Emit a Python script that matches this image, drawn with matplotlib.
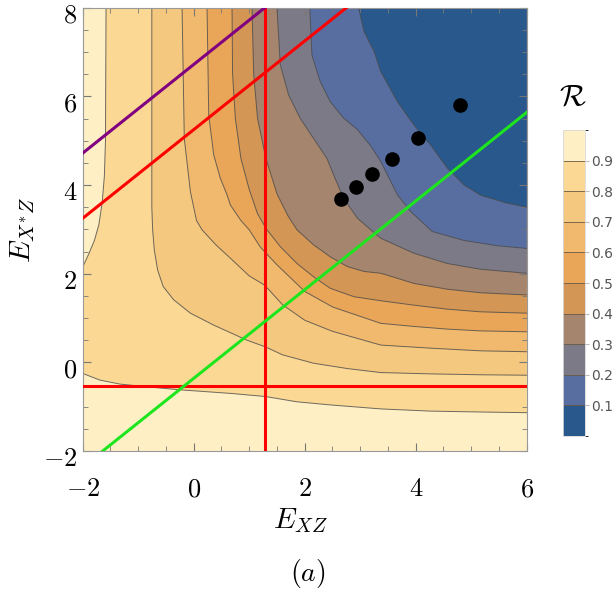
import numpy as np
import matplotlib
matplotlib.use("Agg")
import matplotlib.pyplot as plt
import matplotlib.transforms as mtransforms
from matplotlib.colors import ListedColormap, BoundaryNorm
from matplotlib.cm import ScalarMappable

plt.rcParams["mathtext.fontset"] = "cm"

# band colours, from R<0.1 (dark blue) up to R>0.9 (cream)
band_colors = ["#28588C", "#586EA0", "#7D7A87", "#A5856E", "#D39655",
               "#E9A658", "#F0B96E", "#F5C880", "#FBD894", "#FEF0C4"]
levels = [0.1, 0.2, 0.3, 0.4, 0.5, 0.6, 0.7, 0.8, 0.9]

# contour lines (x = E_XZ, y = E_X*Z), top edge -> right edge
c10_x = [2.97, 3.07, 3.25, 3.37, 3.67, 3.97, 4.27, 4.57, 4.87, 5.17, 5.65, 6.0]
c10_y = [8.0, 7.46, 7.01, 6.56, 5.88, 5.35, 4.90, 4.38, 4.00, 3.77, 3.59, 3.50]
c20_x = [2.09, 2.13, 2.28, 2.46, 2.70, 2.95, 3.19, 3.37, 3.67, 3.91, 4.30, 4.87, 5.47, 6.0]
c20_y = [8.0, 6.93, 6.33, 5.88, 5.51, 5.25, 4.88, 4.53, 3.78, 3.40, 2.95, 2.75, 2.63, 2.57]
c30_x = [1.50, 1.56, 1.71, 1.92, 2.16, 2.40, 2.52, 2.70, 2.95, 3.19, 3.37, 3.97, 4.57, 5.17, 6.0]
c30_y = [8.0, 6.71, 6.03, 5.50, 5.05, 4.60, 4.23, 3.70, 3.25, 2.99, 2.80, 2.46, 2.23, 2.10, 2.01]
c40_x = [1.05, 1.08, 1.15, 1.30, 1.50, 1.70, 1.86, 2.16, 2.46, 2.77, 3.07, 3.37, 3.97, 4.57, 5.17, 6.0]
c40_y = [8.0, 6.50, 5.50, 4.60, 3.80, 3.30, 2.99, 2.65, 2.38, 2.16, 2.05, 2.01, 1.78, 1.65, 1.57, 1.52]
c50_x = [0.69, 0.70, 0.75, 0.85, 1.00, 1.15, 1.32, 1.56, 1.86, 2.16, 2.46, 2.89, 3.37, 3.97, 4.57, 5.17, 6.0]
c50_y = [8.0, 6.50, 5.50, 4.60, 3.90, 3.35, 2.99, 2.61, 2.23, 1.93, 1.67, 1.48, 1.39, 1.29, 1.20, 1.14, 1.11]
c60_x = [0.24, 0.27, 0.36, 0.48, 0.60, 0.66, 0.85, 1.00, 1.20, 1.50, 2.00, 2.50, 3.37, 3.97, 4.57, 5.17, 6.0]
c60_y = [8.0, 5.58, 4.68, 4.15, 3.78, 3.55, 3.20, 2.99, 2.60, 2.20, 1.60, 1.25, 0.88, 0.81, 0.75, 0.71, 0.69]
c70_x = [-0.21, -0.17, -0.06, 0.05, 0.15, 0.40, 0.66, 1.00, 1.28, 1.60, 2.00, 2.50, 3.37, 4.27, 5.17, 6.0]
c70_y = [8.0, 5.05, 3.85, 3.20, 2.99, 2.65, 2.35, 1.95, 1.74, 1.30, 0.95, 0.70, 0.39, 0.32, 0.26, 0.24]
c80_x = [-0.755, -0.755, -0.74, -0.71, -0.65, -0.55, -0.36, -0.06, 0.36, 0.66, 0.96, 1.29, 1.60, 2.16, 2.77, 3.37, 4.27, 5.17, 6.0]
c80_y = [8.0, 3.50, 2.99, 2.53, 2.08, 1.71, 1.41, 1.11, 0.84, 0.67, 0.50, 0.35, 0.17, -0.02, -0.14, -0.23, -0.26, -0.28, -0.29]
c90a_x = [-1.58, -1.59, -1.61, -1.65, -1.71, -1.79, -1.89, -2.0]
c90a_y = [8.0, 5.00, 4.20, 3.60, 3.10, 2.75, 2.45, 2.15]
c90b_x = [-2.0, -1.69, -1.33, -0.85, -0.24, 0.66, 1.02, 1.29, 1.86, 2.46, 3.37, 4.27, 5.17, 6.0]
c90b_y = [-0.25, -0.40, -0.49, -0.55, -0.62, -0.70, -0.74, -0.77, -0.89, -0.96, -1.05, -1.10, -1.12, -1.135]

# fitted points (black dots)
pts_x = [2.66, 2.92, 3.22, 3.57, 4.04, 4.79]
pts_y = [3.69, 3.95, 4.24, 4.59, 5.06, 5.80]

# straight lines: vertical, horizontal and three diagonals
vline_x = 1.28
hline_y = -0.53
green_x = [-1.64, 6.0]
green_y = [-2.0, 5.64]
red_diag_x = [-2.0, 2.75]
red_diag_y = [3.25, 8.0]
purple_x = [-2.0, 1.28]
purple_y = [4.72, 8.0]

xticks = [-2, 0, 2, 4, 6]
yticks = [-2, 0, 2, 4, 6, 8]
xmin, xmax, ymin, ymax = -2, 6, -2, 8

fig = plt.figure(figsize=(6.15, 5.94), dpi=100)
ax = fig.add_axes([0.1345, 0.2407, 0.7220, 0.7463])
ax.set_facecolor(band_colors[-1])

upper = [(c10_x, c10_y), (c20_x, c20_y), (c30_x, c30_y), (c40_x, c40_y),
         (c50_x, c50_y), (c60_x, c60_y), (c70_x, c70_y), (c80_x, c80_y)]

# region R < 0.9 first, then nest the lower levels on top of it
px = c90a_x + c90b_x + [xmax]
py = c90a_y + c90b_y + [ymax]
ax.fill(px, py, color=band_colors[8], lw=0, zorder=1)
for k in range(7, -1, -1):
    xs, ys = upper[k]
    ax.fill(xs + [xmax], ys + [ymax], color=band_colors[k], lw=0, zorder=1)

line_kw = dict(color="#4a4a4a", lw=0.7, alpha=0.8, zorder=2)
for xs, ys in upper:
    ax.plot(xs, ys, **line_kw)
ax.plot(c90a_x, c90a_y, **line_kw)
ax.plot(c90b_x, c90b_y, **line_kw)

lw = 2.2
ax.plot([vline_x, vline_x], [ymin, ymax], color="#FF0000", lw=lw, zorder=4)
ax.plot([xmin, xmax], [hline_y, hline_y], color="#FF0000", lw=lw, zorder=4)
ax.plot(green_x, green_y, color="#1EE61E", lw=lw, zorder=4)
ax.plot(red_diag_x, red_diag_y, color="#FF0000", lw=lw, zorder=4)
ax.plot(purple_x, purple_y, color="#800080", lw=lw, zorder=4)
ax.plot(pts_x, pts_y, "o", color="black", ms=9.5, zorder=5)

ax.set_xlim(xmin, xmax)
ax.set_ylim(ymin, ymax)
ax.set_xticks(xticks)
ax.set_yticks(yticks)
ax.set_xticks(np.arange(-2, 6.01, 0.5), minor=True)
ax.set_yticks(np.arange(-2, 8.01, 0.5), minor=True)
ax.set_xticklabels([f"${v}$" for v in xticks], fontsize=19)
ax.set_yticklabels([f"${v}$" for v in yticks], fontsize=19)
ax.tick_params(which="both", direction="in", top=True, right=True, color="#777777")
ax.tick_params(which="major", length=6, width=0.8)
ax.tick_params(which="minor", length=3.5, width=0.6)
ax.tick_params(axis="x", which="major", pad=18)
ax.tick_params(axis="y", which="major", pad=4)
# Mathematica puts the y labels a little below their ticks
shift = mtransforms.ScaledTranslation(0, -5 / 100, fig.dpi_scale_trans)
for lab in ax.get_yticklabels():
    lab.set_transform(lab.get_transform() + shift)
for s in ax.spines.values():
    s.set_color("#999999")
    s.set_linewidth(0.8)

fig.text(0.488, 0.124, "$E_{XZ}$", fontsize=21, ha="center", va="center")
fig.text(0.037, 0.613, "$E_{X^{*}Z}$", fontsize=21, ha="center", va="center",
         rotation=90)
fig.text(0.501, 0.035, "$(a)$", fontsize=20, ha="center", va="center")

# colour bar
cax = fig.add_axes([0.9154, 0.266, 0.0358, 0.515])
cmap = ListedColormap(band_colors)
norm = BoundaryNorm(np.linspace(0, 1, 11), cmap.N)
cb = fig.colorbar(ScalarMappable(norm=norm, cmap=cmap), cax=cax,
                  ticks=levels, drawedges=True)
cb.dividers.set_color("#6b5a45")
cb.dividers.set_linewidth(0.6)
cb.outline.set_edgecolor("#d8d8d8")
cb.outline.set_linewidth(0.6)
cb.ax.tick_params(labelsize=10, labelcolor="#555555", color="#bbbbbb",
                  length=3, width=0.8, pad=1.5)
cb.ax.set_yticklabels([f"{v:.1f}" for v in levels], family="DejaVu Sans")
fig.text(0.932, 0.838, r"$\mathcal{R}$", fontsize=22, ha="center", va="center")

fig.savefig("out.png", dpi=100)
